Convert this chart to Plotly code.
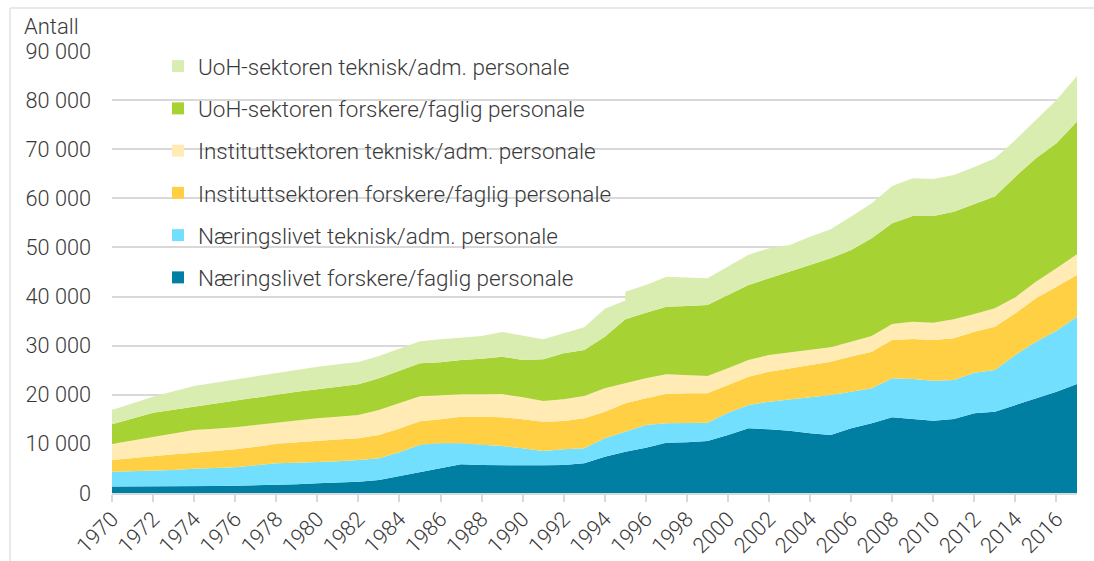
import plotly.graph_objects as go

# Years (1995 appears twice: break in series for UoH technical staff)
years = [1970, 1971, 1972, 1973, 1974, 1975, 1976, 1977, 1978, 1979,
         1980, 1981, 1982, 1983, 1984, 1985, 1986, 1987, 1988, 1989,
         1990, 1991, 1992, 1993, 1994, 1995, 1995, 1996, 1997, 1998, 1999,
         2000, 2001, 2002, 2003, 2004, 2005, 2006, 2007, 2008, 2009,
         2010, 2011, 2012, 2013, 2014, 2015, 2016, 2017]

naering_forskere = [1300, 1300, 1300, 1300, 1300, 1400, 1490, 1560, 1630, 1800,
                    1970, 2130, 2300, 2650, 3450, 4300, 5030, 5840, 5700, 5640,
                    5640, 5640, 5700, 6040, 7390, 8410, 8410, 9230, 10250, 10320, 10590,
                    11810, 13170, 12970, 12690, 12160, 11810, 13170, 14200, 15420, 15070,
                    14730, 15070, 16230, 16560, 17920, 19280, 20640, 22200]
naering_teknisk = [3040, 3110, 3180, 3400, 3650, 3690, 3740, 4070, 4410, 4350,
                   4280, 4350, 4420, 4410, 4850, 5500, 5090, 4280, 4140, 3930,
                   3460, 2910, 3200, 3060, 3750, 4070, 4070, 4620, 3950, 4000, 3730,
                   4540, 4750, 5630, 6390, 7330, 8150, 7470, 7120, 7940, 8150,
                   8140, 7940, 8270, 8490, 10190, 11530, 12420, 13710]
institutt_forskere = [2380, 2720, 3060, 3170, 3260, 3460, 3670, 3810, 3940, 4170,
                      4400, 4420, 4420, 4750, 4850, 4800, 4890, 5420, 5700, 5850,
                      5910, 5970, 5760, 6110, 5420, 5790, 5790, 5430, 5960, 5980, 5980,
                      5650, 5770, 6110, 6320, 6580, 6780, 7130, 7460, 7800, 8140,
                      8290, 8500, 8350, 8820, 8490, 8840, 8960, 8490]
institutt_teknisk = [3260, 3590, 3930, 4280, 4620, 4550, 4480, 4410, 4340, 4440,
                     4560, 4650, 4750, 5090, 5150, 5100, 4880, 4560, 4560, 4740,
                     4470, 4220, 4420, 4540, 4760, 4070, 4070, 4080, 4010, 3730, 3530,
                     3400, 3400, 3400, 3250, 3050, 2930, 3040, 3200, 3260, 3530,
                     3530, 3870, 3610, 3750, 3260, 3390, 3740, 4220]
uoh_forskere = [4010, 4450, 4880, 4820, 4750, 5160, 5560, 5700, 5840, 5880,
                5910, 6080, 6250, 6460, 6600, 6700, 6730, 6990, 7250, 7600,
                7610, 8480, 9360, 9370, 10520, 13040, 13040, 13360, 13770, 14050, 14460,
                14900, 15270, 15620, 16420, 17320, 18130, 18680, 19890, 20500, 21530,
                21730, 21910, 22400, 22730, 24560, 25130, 25460, 27000]
uoh_teknisk = [2910, 3080, 3260, 3730, 4210, 4210, 4210, 4210, 4210, 4410,
               4600, 4570, 4540, 4540, 4500, 4500, 4680, 4620, 4630, 5030,
               4890, 4080, 4080, 4620, 5700, 3830, 5620, 5640, 6110, 5850, 5440,
               5800, 6140, 6110, 5440, 5760, 5900, 6790, 7130, 7610, 7670,
               7530, 7480, 7540, 7820, 7470, 7800, 8820, 9310]

series_names = [
    "Næringslivet forskere/faglig personale",
    "Næringslivet teknisk/adm. personale",
    "Instituttsektoren forskere/faglig personale",
    "Instituttsektoren teknisk/adm. personale",
    "UoH-sektoren forskere/faglig personale",
    "UoH-sektoren teknisk/adm. personale",
]
series_values = [naering_forskere, naering_teknisk, institutt_forskere,
                 institutt_teknisk, uoh_forskere, uoh_teknisk]
colors = ["#007FA3", "#73DFFF", "#FFD043", "#FFEBB3", "#A6D333", "#DAEDB1"]

y_ticks = [0, 10000, 20000, 30000, 40000, 50000, 60000, 70000, 80000, 90000]
x_ticks = list(range(1970, 2017, 2))

TXT = "#3a3a3a"
def font(size):
    return dict(family="Roboto", size=size, color=TXT, weight=300)

fig = go.Figure()

cum = [0] * len(years)
for i, (name, vals, col) in enumerate(zip(series_names, series_values, colors)):
    cum = [c + v for c, v in zip(cum, vals)]
    fig.add_trace(go.Scatter(
        x=years, y=cum, mode="lines", line=dict(width=0, color=col),
        fill="tozeroy" if i == 0 else "tonexty", fillcolor=col,
        showlegend=False, name=name, hoverinfo="skip"))

# legend entries, top-most stack layer first
for name, col in reversed(list(zip(series_names, colors))):
    fig.add_trace(go.Scatter(
        x=[None], y=[None], mode="markers", name=name, legendgroup=name,
        marker=dict(symbol="square", size=13, color=col)))

L, R, T, B = 112, 17, 51, 68
W, H = 1094, 561
pw, ph = W - L - R, H - T - B

def px_x(p):
    return (p - L) / pw

def px_y(p):
    return (H - B - p) / ph

fig.update_layout(
    width=W, height=H, autosize=False,
    margin=dict(l=L, r=R, t=T, b=B, pad=0),
    paper_bgcolor="white", plot_bgcolor="white",
    font=font(20),
    separators=", ",
    showlegend=True,
    legend=dict(
        x=px_x(158), y=px_y(45), xanchor="left", yanchor="top",
        traceorder="grouped", tracegroupgap=10,
        bgcolor="rgba(0,0,0,0)", font=font(22.5), itemsizing="constant",
    ),
    xaxis=dict(
        range=[1970, 2017], tickmode="array", tickvals=x_ticks,
        ticktext=[str(t) for t in x_ticks], tickangle=-45,
        showgrid=False, zeroline=False, automargin=False,
        showline=True, linecolor="#d9d9d9", linewidth=2,
        ticks="outside", ticklen=7, tickwidth=2, tickcolor="#d9d9d9",
        ticklabelstandoff=-4,
        tickfont=font(21.5),
    ),
    yaxis=dict(
        range=[0, 90000], tickmode="array", tickvals=y_ticks,
        tickformat=",d", showgrid=True, gridcolor="#d9d9d9", gridwidth=2,
        zeroline=False, showline=False, ticks="", ticklabelstandoff=20,
        automargin=False,
        tickfont=font(21.7),
    ),
    annotations=[dict(
        text="Antall", x=px_x(22), y=px_y(27), xref="paper", yref="paper",
        xanchor="left", yanchor="middle", showarrow=False,
        font=font(22))],
    shapes=[
        dict(type="line", xref="paper", yref="paper",
             x0=px_x(10), x1=px_x(1100), y0=px_y(8), y1=px_y(8),
             line=dict(color="#e2e2e2", width=1.5)),
        dict(type="line", xref="paper", yref="paper",
             x0=px_x(10), x1=px_x(10), y0=px_y(8), y1=px_y(570),
             line=dict(color="#e2e2e2", width=1.5)),
    ],
)

fig.write_html("out.html", config={"displayModeBar": False},
               post_script="document.body.style.margin='0px';document.body.style.overflow='hidden';")
